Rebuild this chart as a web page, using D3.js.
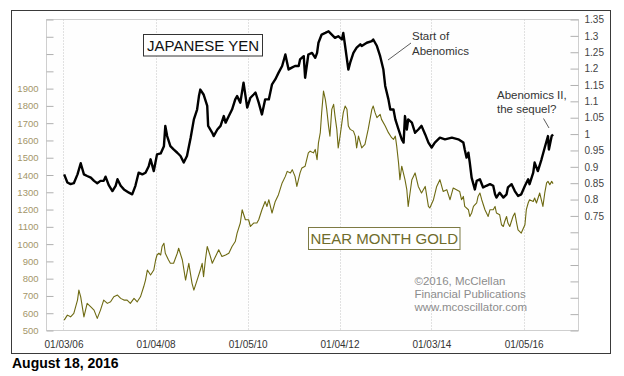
<!DOCTYPE html>
<html>
<head>
<meta charset="utf-8">
<script src="https://cdn.jsdelivr.net/npm/d3@7"></script>
<style>
  body { margin: 0; background: #fff; }
  svg { font-family: "Liberation Sans", Arial, sans-serif; display: block; }
</style>
</head>
<body>
<div id="chart"></div>
<script>
// yen futures, USD per 100 yen (right scale)
const yenYears = [2006.02,2006.09,2006.16,2006.23,2006.31,2006.38,2006.45,2006.52,2006.60,2006.67,
  2006.74,2006.81,2006.88,2006.92,2006.99,2007.07,2007.14,2007.18,2007.25,2007.32,
  2007.43,2007.50,2007.57,2007.64,2007.72,2007.79,2007.86,2007.90,2007.97,2008.04,
  2008.12,2008.19,2008.22,2008.26,2008.33,2008.40,2008.48,2008.55,2008.62,2008.69,
  2008.77,2008.84,2008.91,2008.95,2008.98,2009.05,2009.13,2009.15,2009.24,2009.27,
  2009.35,2009.42,2009.49,2009.53,2009.60,2009.67,2009.74,2009.78,2009.85,2009.92,
  2010.00,2010.07,2010.14,2010.18,2010.25,2010.32,2010.39,2010.47,2010.54,2010.61,
  2010.68,2010.76,2010.83,2010.90,2010.97,2011.04,2011.12,2011.15,2011.23,2011.26,
  2011.33,2011.41,2011.48,2011.52,2011.55,2011.62,2011.70,2011.77,2011.84,2011.91,
  2011.98,2012.06,2012.09,2012.13,2012.20,2012.24,2012.31,2012.38,2012.46,2012.49,
  2012.60,2012.71,2012.74,2012.82,2012.89,2012.96,2013.00,2013.07,2013.11,2013.18,
  2013.22,2013.29,2013.36,2013.40,2013.43,2013.47,2013.50,2013.58,2013.65,2013.72,
  2013.79,2013.87,2013.94,2014.01,2014.08,2014.19,2014.30,2014.45,2014.59,2014.70,
  2014.73,2014.77,2014.81,2014.84,2014.88,2014.95,2014.99,2015.06,2015.13,2015.20,
  2015.28,2015.35,2015.39,2015.42,2015.49,2015.57,2015.64,2015.67,2015.75,2015.82,
  2015.89,2015.96,2016.04,2016.11,2016.14,2016.22,2016.25,2016.32,2016.40,2016.47,
  2016.54,2016.56,2016.62,2016.65];
const yenValues = [0.877,0.852,0.847,0.850,0.877,0.911,0.877,0.872,0.867,0.857,
  0.850,0.857,0.857,0.870,0.844,0.826,0.842,0.862,0.842,0.831,
  0.821,0.816,0.842,0.882,0.877,0.882,0.902,0.923,0.887,0.938,
  0.941,0.963,1.025,0.994,0.963,0.953,0.943,0.933,0.913,0.933,
  0.989,1.045,1.075,1.116,1.136,1.121,1.086,1.025,1.004,0.994,
  1.014,1.025,1.055,1.035,1.055,1.075,1.106,1.116,1.096,1.157,
  1.081,1.111,1.121,1.127,1.096,1.060,1.106,1.106,1.152,1.167,
  1.187,1.208,1.243,1.197,1.203,1.208,1.208,1.228,1.238,1.172,
  1.243,1.248,1.233,1.248,1.279,1.304,1.309,1.314,1.304,1.294,
  1.299,1.289,1.309,1.269,1.197,1.218,1.248,1.264,1.274,1.269,
  1.279,1.284,1.289,1.269,1.238,1.197,1.147,1.106,1.075,1.075,
  1.045,1.014,0.984,0.974,1.055,1.014,1.045,1.035,1.004,1.014,
  1.025,0.999,0.974,0.959,0.974,0.989,0.984,0.989,0.984,0.974,
  0.953,0.928,0.943,0.913,0.867,0.831,0.857,0.862,0.837,0.842,
  0.847,0.842,0.816,0.806,0.821,0.806,0.816,0.837,0.847,0.826,
  0.811,0.816,0.842,0.862,0.847,0.882,0.913,0.887,0.923,0.959,
  0.994,0.953,0.994,0.999];

// near month gold, $/oz (left scale)
const goldYears = [2006.02,2006.09,2006.16,2006.23,2006.31,2006.34,2006.38,2006.45,2006.52,2006.60,
  2006.67,2006.74,2006.81,2006.88,2006.96,2007.03,2007.10,2007.18,2007.25,2007.32,
  2007.39,2007.46,2007.54,2007.61,2007.68,2007.75,2007.79,2007.83,2007.90,2007.97,
  2008.01,2008.04,2008.08,2008.12,2008.15,2008.19,2008.22,2008.29,2008.33,2008.40,
  2008.48,2008.51,2008.59,2008.66,2008.73,2008.80,2008.84,2008.91,2008.98,2009.02,
  2009.05,2009.09,2009.13,2009.20,2009.24,2009.31,2009.38,2009.45,2009.53,2009.60,
  2009.67,2009.74,2009.78,2009.85,2009.89,2009.96,2010.03,2010.07,2010.14,2010.21,
  2010.25,2010.32,2010.39,2010.43,2010.47,2010.54,2010.61,2010.68,2010.76,2010.83,
  2010.87,2010.94,2010.98,2011.04,2011.08,2011.15,2011.19,2011.26,2011.33,2011.37,
  2011.44,2011.48,2011.52,2011.55,2011.59,2011.62,2011.66,2011.70,2011.73,2011.77,
  2011.80,2011.84,2011.88,2011.91,2011.95,2011.98,2012.02,2012.06,2012.09,2012.13,
  2012.17,2012.20,2012.24,2012.31,2012.35,2012.38,2012.42,2012.49,2012.56,2012.63,
  2012.67,2012.71,2012.74,2012.78,2012.82,2012.89,2012.92,2013.00,2013.07,2013.14,
  2013.18,2013.22,2013.25,2013.29,2013.32,2013.36,2013.43,2013.47,2013.50,2013.54,
  2013.58,2013.65,2013.72,2013.79,2013.87,2013.94,2013.97,2014.05,2014.12,2014.19,
  2014.26,2014.34,2014.41,2014.48,2014.55,2014.62,2014.66,2014.70,2014.73,2014.81,
  2014.84,2014.88,2014.92,2014.99,2015.02,2015.06,2015.10,2015.17,2015.24,2015.28,
  2015.35,2015.39,2015.42,2015.49,2015.53,2015.57,2015.60,2015.64,2015.67,2015.71,
  2015.78,2015.82,2015.86,2015.89,2015.96,2016.04,2016.07,2016.11,2016.14,2016.22,
  2016.25,2016.29,2016.36,2016.43,2016.47,2016.51,2016.54,2016.58,2016.62,2016.65];
const goldValues = [560,589,579,599,676,734,695,579,657,637,
  618,570,618,676,657,666,695,705,686,676,
  676,657,686,666,695,753,792,850,821,850,
  908,937,947,937,986,1005,947,908,889,889,
  947,976,908,792,889,773,734,792,850,889,
  811,908,986,928,889,928,967,928,937,947,
  986,1015,1064,1122,1199,1141,1141,1102,1122,1122,
  1141,1199,1247,1218,1257,1180,1247,1286,1354,1392,
  1421,1412,1431,1392,1334,1412,1441,1451,1528,1538,
  1528,1548,1489,1586,1645,1761,1886,1838,1780,1683,
  1625,1780,1809,1741,1664,1557,1625,1703,1761,1799,
  1780,1683,1664,1654,1625,1557,1625,1557,1577,1664,
  1722,1780,1799,1761,1732,1751,1722,1683,1645,1616,
  1606,1625,1567,1470,1373,1451,1373,1315,1218,1296,
  1373,1412,1334,1296,1334,1218,1209,1257,1334,1373,
  1305,1315,1257,1325,1315,1305,1257,1276,1218,1199,
  1160,1180,1218,1238,1276,1296,1257,1199,1160,1199,
  1199,1218,1180,1170,1112,1102,1131,1160,1122,1102,
  1160,1180,1122,1083,1064,1112,1199,1238,1257,1247,
  1267,1238,1296,1218,1296,1354,1363,1344,1363,1350];

const xTickDates = ["2006-01-03", "2008-01-04", "2010-01-05", "2012-01-04", "2014-01-03", "2016-01-05"];
const goldTicks = d3.range(500, 2301, 100);
const goldLabelMax = 1900;
const yenTicks = d3.range(40, 136, 5).map(d => d / 100);
const yenLabelMin = 0.75;

const width = 624;
const height = 376;
const plot = { left: 46.5, right: 578.5, top: 19.5, bottom: 330.5 };

// decimal year -> Date
const toDate = t => {
  const y = Math.floor(t);
  const a = new Date(y, 0, 1);
  const b = new Date(y + 1, 0, 1);
  return new Date(+a + (t - y) * (b - a));
};
const parse = d3.timeParse("%Y-%m-%d");

const yen = d3.zip(yenYears, yenValues).map(([t, v]) => ({ date: toDate(t), value: v }));
const gold = d3.zip(goldYears, goldValues).map(([t, v]) => ({ date: toDate(t), value: v }));

const x = d3
  .scaleTime()
  .domain([new Date(2005, 7, 21), new Date(2017, 2, 16)])
  .range([plot.left, plot.right]);
const yGold = d3.scaleLinear().domain([500, 2300]).range([plot.bottom, plot.top]);
const yYen = d3.scaleLinear().domain([0.4, 1.35]).range([plot.bottom, plot.top]);

const svg = d3
  .select("#chart")
  .append("svg")
  .attr("width", width)
  .attr("height", height);

// outer frame
svg
  .append("rect")
  .attr("x", 11.5)
  .attr("y", 10.5)
  .attr("width", 599)
  .attr("height", 343)
  .attr("fill", "#fff")
  .attr("stroke", "#3a3a3a");

// plot frame
svg
  .append("rect")
  .attr("x", plot.left)
  .attr("y", plot.top)
  .attr("width", plot.right - plot.left)
  .attr("height", plot.bottom - plot.top)
  .attr("fill", "#fefefe")
  .attr("stroke", "#cfcfcf");

// dotted vertical grid
svg
  .selectAll("line.grid")
  .data(xTickDates.map(parse))
  .join("line")
  .classed("grid", true)
  .attr("x1", d => Math.round(x(d)) + 0.5)
  .attr("x2", d => Math.round(x(d)) + 0.5)
  .attr("y1", plot.top)
  .attr("y2", plot.bottom)
  .attr("stroke", "#c4c4c4")
  .attr("stroke-dasharray", "1,2");

// left axis (gold)
const leftAxis = svg
  .append("g")
  .attr("transform", `translate(${plot.left},0)`)
  .call(
    d3
      .axisLeft(yGold)
      .tickValues(goldTicks)
      .tickSize(-7)
      .tickPadding(8)
      .tickFormat(d => (d <= goldLabelMax ? d : ""))
  );
leftAxis.select(".domain").remove();
leftAxis.selectAll("line").attr("stroke", "#b0b0b0");
leftAxis
  .selectAll("text")
  .attr("fill", "#a3966a")
  .attr("font-size", "9.5px")
  .attr("font-family", null);

// right axis (yen)
const rightAxis = svg
  .append("g")
  .attr("transform", `translate(${plot.right},0)`)
  .call(
    d3
      .axisRight(yYen)
      .tickValues(yenTicks)
      .tickSize(-8)
      .tickPadding(6)
      .tickFormat(d => (d >= yenLabelMin - 1e-9 ? String(+d.toFixed(2)) : ""))
  );
rightAxis.select(".domain").remove();
rightAxis.selectAll("line").attr("stroke", "#b0b0b0");
rightAxis
  .selectAll("text")
  .attr("fill", "#444")
  .attr("font-size", "10px")
  .attr("font-family", null);

// bottom labels
const bottomAxis = svg
  .append("g")
  .attr("transform", `translate(0,${plot.bottom})`)
  .call(
    d3
      .axisBottom(x)
      .tickValues(xTickDates.map(parse))
      .tickSize(0)
      .tickPadding(10)
      .tickFormat(d3.timeFormat("%m/%d/%y"))
  );
bottomAxis.select(".domain").remove();
bottomAxis
  .selectAll("text")
  .attr("fill", "#333")
  .attr("font-size", "10px")
  .attr("font-family", null);

// series
svg
  .append("path")
  .datum(gold)
  .attr("fill", "none")
  .attr("stroke", "#6e6a12")
  .attr("stroke-width", 1.1)
  .attr("stroke-linejoin", "round")
  .attr("d", d3.line().x(d => x(d.date)).y(d => yGold(d.value)));

svg
  .append("path")
  .datum(yen)
  .attr("fill", "none")
  .attr("stroke", "#000")
  .attr("stroke-width", 2.4)
  .attr("stroke-linejoin", "round")
  .attr("d", d3.line().x(d => x(d.date)).y(d => yYen(d.value)));

// title boxes
const boxes = [
  { text: "JAPANESE YEN", x: 143.5, y: 34.5, w: 119, h: 21.5, stroke: "#333", fill: "#111" },
  { text: "NEAR MONTH GOLD", x: 308.5, y: 227.5, w: 151.5, h: 22, stroke: "#7d7a44", fill: "#6f6c2c" }
];
const box = svg.selectAll("g.box").data(boxes).join("g").classed("box", true);
box
  .append("rect")
  .attr("x", d => d.x)
  .attr("y", d => d.y)
  .attr("width", d => d.w)
  .attr("height", d => d.h)
  .attr("fill", "#fff")
  .attr("stroke", d => d.stroke);
box
  .append("text")
  .text(d => d.text)
  .attr("x", d => d.x + d.w / 2)
  .attr("y", d => d.y + d.h / 2 + 5.4)
  .attr("text-anchor", "middle")
  .attr("font-size", "15px")
  .attr("fill", d => d.fill);

// annotations
const notes = [
  { lines: ["Start of", "Abenomics"], x: 412, y: 40, color: "#333" },
  { lines: ["Abenomics II,", "the sequel?"], x: 497, y: 98.5, color: "#333" },
  { lines: ["\u00a92016, McClellan", "Financial Publications", "www.mcoscillator.com"], x: 414.5, y: 284.5, color: "#8c8c8c", step: 13.2 }
];
notes.forEach(n => {
  svg
    .append("text")
    .attr("font-size", "11.5px")
    .attr("fill", n.color)
    .selectAll("tspan")
    .data(n.lines)
    .join("tspan")
    .attr("x", n.x)
    .attr("y", (d, i) => n.y + i * (n.step || 14.7))
    .text(d => d);
});

const pointers = [
  [[388, 60], [411, 43]],
  [[543.5, 118.5], [549, 128]]
];
svg
  .selectAll("path.pointer")
  .data(pointers)
  .join("path")
  .classed("pointer", true)
  .attr("d", d3.line())
  .attr("stroke", "#333")
  .attr("stroke-width", 0.8)
  .attr("fill", "none");

// date stamp
svg
  .append("text")
  .text("August 18, 2016")
  .attr("x", 12)
  .attr("y", 368)
  .attr("font-size", "14px")
  .attr("font-weight", "bold")
  .attr("fill", "#000");
</script>
</body>
</html>
